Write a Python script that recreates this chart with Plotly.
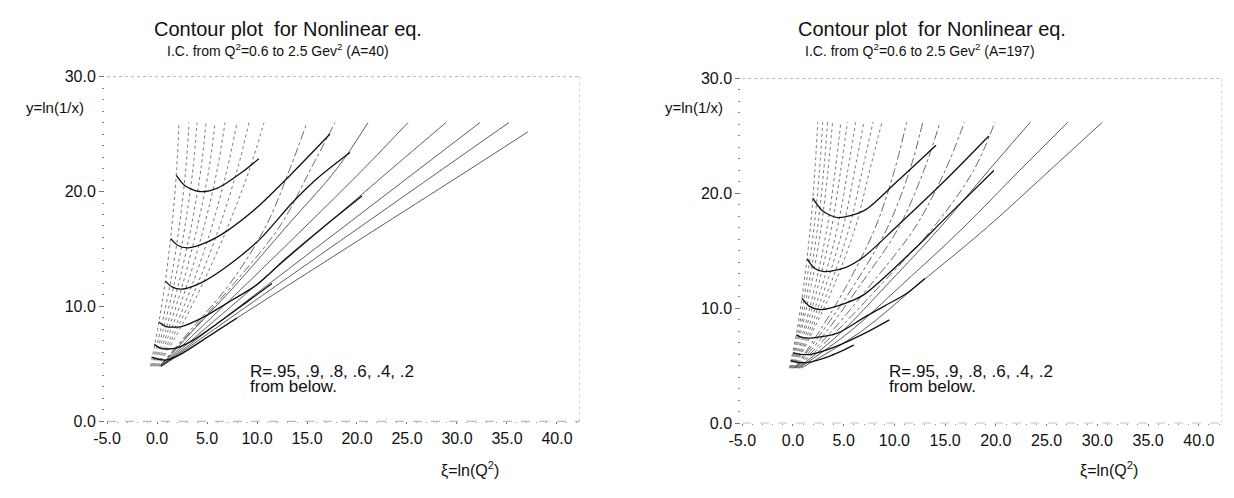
import plotly.graph_objects as go

W, H = 1234, 498

# ---------------- data: A=40 (left panel) ----------------
CHAR_Y = [4.8, 8, 12, 17, 22]          # y levels at which x is read (plus the top point)
A40_TOP_Y = [26]*16 + [25.2]
A40_TOP_X = [2.2, 3.2, 4.0, 4.9, 5.8, 6.8, 8.0, 9.2, 10.7, 15.0, 17.8, 21.1, 25.1, 28.9, 32.3, 35.2, 37.1]
A40_CHAR_X = [
    [-0.65, 0.06, 0.80, 1.49, 1.97],
    [-0.55, 0.37, 1.33, 2.23, 2.88],
    [-0.45, 0.62, 1.73, 2.80, 3.60],
    [-0.35, 0.88, 2.17, 3.43, 4.40],
    [-0.25, 1.14, 2.59, 4.05, 5.20],
    [-0.15, 1.41, 3.05, 4.72, 6.04],
    [-0.05, 1.72, 3.57, 5.50, 7.03],
    [0.05, 1.97, 4.08, 6.27, 8.06],
    [0.15, 2.26, 4.58, 7.11, 9.28],
    [0.25, 3.40, 7.30, 10.90, 13.30],
    [0.30, 3.60, 7.70, 12.30, 15.40],
    [0.35, 3.70, 8.00, 13.00, 18.00],
    [0.40, 4.20, 9.00, 14.90, 20.70],
    [0.42, 4.72, 10.09, 16.80, 23.50],
    [0.44, 5.25, 11.26, 18.78, 26.29],
    [0.45, 5.70, 12.25, 20.45, 28.64],
    [0.45, 6.20, 13.40, 22.40, 31.40],
]
A40_R_X = [
    [-0.54, 0.2, 1.0, 2.5, 5.0, 8.0],
    [-0.28, 0.4, 1.1, 2.0, 3.5, 6.0, 9.0, 11.5],
    [0.18, 0.9, 1.6, 2.43, 4.7, 7.4, 10.0, 12.8, 16.5, 20.5],
    [0.84, 1.5, 2.43, 4.5, 6.7, 10.35, 13.5, 16.1, 19.3],
    [1.37, 2.1, 3.09, 5.0, 7.05, 10.0, 13.3, 17.3],
    [1.93, 2.8, 4.24, 6.06, 8.53, 10.18],
]
A40_R_Y = [
    [5.6, 5.4, 5.35, 5.9, 7.3, 9.0],
    [6.7, 6.35, 6.3, 6.4, 7.0, 8.5, 10.4, 12.0],
    [8.65, 8.25, 8.2, 8.25, 9.1, 10.5, 11.9, 14.1, 16.8, 19.6],
    [12.2, 11.7, 11.5, 12.1, 13.3, 15.9, 19.0, 21.2, 23.4],
    [15.9, 15.3, 15.1, 15.6, 16.6, 18.6, 21.4, 25.0],
    [21.4, 20.5, 20.0, 20.3, 21.7, 22.85],
]

# ---------------- data: A=197 (right panel) ----------------
A197_TOP_Y = [26.2]*18
A197_TOP_X = [2.44, 2.93, 3.41, 3.9, 4.72, 5.36, 6.18, 6.99, 7.89, 8.77, 11.2, 12.8, 14.5, 16.9, 19.9, 23.4, 27.1, 30.5]
A197_CHAR_X = [
    [-0.35, 0.38, 1.05, 1.71, 2.16],
    [-0.30, 0.52, 1.28, 2.07, 2.61],
    [-0.25, 0.67, 1.54, 2.42, 3.03],
    [-0.20, 0.80, 1.79, 2.77, 3.45],
    [-0.15, 1.02, 2.19, 3.36, 4.16],
    [-0.10, 1.18, 2.49, 3.80, 4.70],
    [-0.05, 1.38, 2.88, 4.37, 5.40],
    [0.00, 1.57, 3.25, 4.93, 6.08],
    [0.05, 1.77, 3.66, 5.54, 6.83],
    [0.10, 1.96, 4.04, 6.13, 7.56],
    [0.15, 2.60, 5.30, 8.10, 10.00],
    [0.20, 2.90, 6.00, 9.30, 11.50],
    [0.25, 3.30, 6.60, 10.40, 12.90],
    [0.30, 3.80, 7.60, 12.00, 15.00],
    [0.40, 4.30, 8.60, 13.80, 17.80],
    [0.50, 4.85, 9.20, 14.47, 19.28],
    [0.60, 5.64, 10.67, 16.77, 22.33],
    [0.80, 6.74, 12.23, 19.07, 25.30],
]
A197_R_X = [
    [-0.22, 0.5, 1.5, 3.5, 6.0],
    [0.0, 0.8, 1.8, 4.0, 7.0, 9.5],
    [0.33, 1.0, 1.79, 4.39, 7.0, 9.0, 11.2, 13.0],
    [0.88, 1.6, 2.77, 5.0, 7.0, 11.9, 14.46, 16.0, 19.8],
    [1.4, 2.1, 3.09, 5.0, 7.0, 10.2, 14.96, 19.3],
    [1.95, 2.9, 4.39, 7.0, 10.2, 14.1],
]
A197_R_Y = [
    [5.46, 5.3, 5.3, 5.8, 6.8],
    [6.16, 6.0, 6.0, 6.6, 7.8, 9.0],
    [7.7, 7.45, 7.42, 7.84, 9.2, 10.2, 11.3, 12.6],
    [10.9, 10.2, 9.9, 10.4, 11.2, 15.1, 17.35, 18.7, 22.0],
    [14.3, 13.5, 13.2, 13.5, 14.5, 17.1, 21.1, 25.0],
    [19.6, 18.5, 17.9, 18.5, 21.0, 24.2],
]

X_TICKS = [-5, 0, 5, 10, 15, 20, 25, 30, 35, 40]
Y_TICKS = [0, 10, 20, 30]
A_VALUES = [40, 197]

# ---------------- layout helpers ----------------
def px(x):
    return x / W

def py(y):
    return 1 - y / H

FONT = "Liberation Sans, Arial, Helvetica, sans-serif"

fig = go.Figure()

panels = [
    dict(xa="x", ya="y", tops_x=A40_TOP_X, tops_y=A40_TOP_Y, cx=A40_CHAR_X,
         rx=A40_R_X, ry=A40_R_Y, n_dot=9, n_dash=2),
    dict(xa="x2", ya="y2", tops_x=A197_TOP_X, tops_y=A197_TOP_Y, cx=A197_CHAR_X,
         rx=A197_R_X, ry=A197_R_Y, n_dot=10, n_dash=5),
]

for p in panels:
    for i, (xs, tx, ty) in enumerate(zip(p["cx"], p["tops_x"], p["tops_y"])):
        xx = list(xs) + [tx]
        yy = list(CHAR_Y) + [ty]
        if i < p["n_dot"]:
            line = dict(color="#777", width=1, dash="dot")
        elif i < p["n_dot"] + p["n_dash"]:
            line = dict(color="#444", width=0.8, dash="dashdot")
        else:
            line = dict(color="#333", width=0.8)
        line["shape"] = "spline"
        fig.add_trace(go.Scatter(x=xx, y=yy, mode="lines", line=line,
                                 xaxis=p["xa"], yaxis=p["ya"], showlegend=False,
                                 hoverinfo="skip"))
    for xs, ys in zip(p["rx"], p["ry"]):
        fig.add_trace(go.Scatter(x=xs, y=ys, mode="lines",
                                 line=dict(color="#111", width=1.3, shape="spline", smoothing=0.8),
                                 xaxis=p["xa"], yaxis=p["ya"], showlegend=False,
                                 hoverinfo="skip"))

# axes geometry (pixels)
geo = [
    dict(x0=93, x1=573, y0=428, y1=71, xr=[-5.2, 42.3]),
    dict(x0=736, x1=1222, y0=430, y1=73, xr=[-5.1, 42.3]),
]

common_x = dict(tickmode="array", tickvals=X_TICKS, ticktext=[f"{v:.1f}" for v in X_TICKS],
                showgrid=False, zeroline=False, showline=False, ticks="outside",
                ticklen=2, tickcolor="#777", tickwidth=1,
                minor=dict(dtick=1, ticklen=1, tickcolor="#999", ticks="outside"),
                tickfont=dict(family=FONT, size=16, color="#111"))
common_y = dict(tickmode="array", tickvals=Y_TICKS, ticktext=[f"{v:.1f}" for v in Y_TICKS],
                showgrid=False, zeroline=False, showline=False, ticks="outside",
                ticklen=5, tickcolor="#777", tickwidth=1, range=[0, 30],
                minor=dict(dtick=1, ticklen=2, tickcolor="#888", ticks="outside"),
                tickfont=dict(family=FONT, size=16, color="#111"))

layout = dict(width=W, height=H, margin=dict(l=0, r=0, t=0, b=0),
              paper_bgcolor="white", plot_bgcolor="white", showlegend=False)
for k, g in enumerate(geo):
    sx = "" if k == 0 else "2"
    layout["xaxis" + sx] = dict(common_x, domain=[px(g["x0"]), px(g["x1"])], range=g["xr"],
                                anchor="y" + sx)
    layout["yaxis" + sx] = dict(common_y, domain=[py(g["y0"]), py(g["y1"])], anchor="x" + sx)
fig.update_layout(**layout)

# frame lines: dashed baseline, dotted top and right edge
for k, g in enumerate(geo):
    sx = "" if k == 0 else "2"
    xref, yref = "x" + sx, "y" + sx
    fig.add_shape(type="line", xref=xref, yref=yref, x0=-5, x1=g["xr"][1], y0=0, y1=0,
                  line=dict(color="#666", width=1, dash="dash"))
    fig.add_shape(type="line", xref=xref, yref=yref, x0=-5, x1=g["xr"][1], y0=30, y1=30,
                  line=dict(color="#777", width=1, dash="dot"))
    fig.add_shape(type="line", xref=xref, yref=yref, x0=g["xr"][1], x1=g["xr"][1], y0=0, y1=30,
                  line=dict(color="#aaa", width=1, dash="dot"))

# texts
def note(text, x, y, size, xanchor="center"):
    fig.add_annotation(text=text, x=px(x), y=py(y), xref="paper", yref="paper",
                       xanchor=xanchor, yanchor="middle", showarrow=False,
                       font=dict(family=FONT, size=size, color="#111"))

title_x = [278, 929]
sub_x = [268, 917]
offs = [0, 646]
for k, A in enumerate(A_VALUES):
    o = offs[k]
    note("Contour plot  for Nonlinear eq.", title_x[k], 22, 20)
    note(f"I.C. from Q<sup>2</sup>=0.6 to 2.5 Gev<sup>2</sup> (A={A})", sub_x[k], 44, 14)
    note("y=ln(1/x)", 74 + o, 103, 15, "right")
    note("ξ=ln(Q<sup>2</sup>)", 462 + o, 478, 16)
    note("R=.95, .9, .8, .6, .4, .2", 237 + o, 376, 17, "left")
    note("from below.", 237 + o, 392, 17, "left")

fig.write_html("out.html", config={"displayModeBar": False},
               post_script="document.body.style.margin='0px';")
